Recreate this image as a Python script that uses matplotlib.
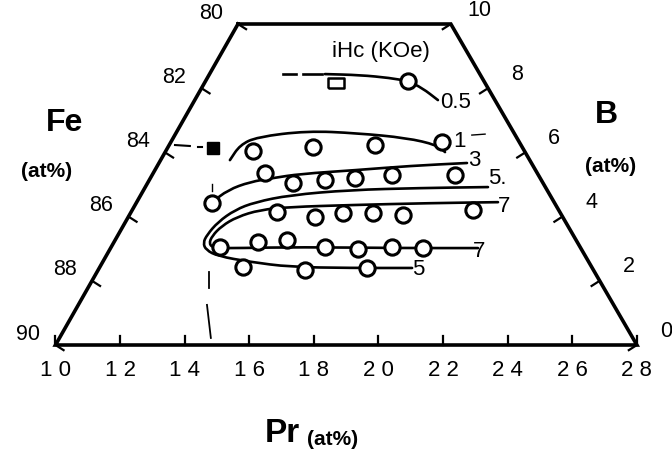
import numpy as np
import matplotlib
matplotlib.use("Agg")
import matplotlib.pyplot as plt
from matplotlib.path import Path
from matplotlib.patches import PathPatch

plt.rcParams['font.family'] = ['Liberation Sans', 'DejaVu Sans']

# diagram units: horizontal = position on the Pr axis, vertical = B (at%)
pr_ticks = [10, 12, 14, 16, 18, 20, 22, 24, 26, 28]
fe_ticks = [80, 82, 84, 86, 88, 90]
b_ticks = [0, 2, 4, 6, 8, 10]
top_left = 15.65   # Pr-axis position of the top corners (B = 10)
top_right = 22.24

# measured samples (open circles)
pts_05_x = [20.91]
pts_05_y = [8.22]
pts_1_x = [16.11, 17.97, 19.89, 21.97]
pts_1_y = [6.04, 6.17, 6.23, 6.32]
pts_3_x = [14.85, 16.49, 17.35, 18.34, 19.27, 20.42, 22.37]
pts_3_y = [4.42, 5.36, 5.05, 5.14, 5.20, 5.30, 5.30]
pts_7a_x = [16.86, 18.03, 18.90, 19.83, 20.76, 22.93]
pts_7a_y = [4.14, 3.99, 4.11, 4.11, 4.05, 4.21]
pts_7b_x = [15.09, 16.27, 17.17, 18.34, 19.37, 20.42, 21.38]
pts_7b_y = [3.05, 3.21, 3.27, 3.05, 2.99, 3.05, 3.02]
pts_5b_x = [15.80, 17.72, 19.64]
pts_5b_y = [2.43, 2.34, 2.40]
open_sq = (18.68, 8.16)
filled_sq = (14.88, 6.14)

# iHc contour lines
c05_x = [18.34, 19.43, 20.36, 20.91, 21.35, 21.84]
c05_y = [8.44, 8.41, 8.32, 8.22, 8.01, 7.63]
c1_x = [15.40, 15.71, 16.24, 17.79, 19.33, 20.88, 21.81, 22.06]
c1_y = [5.76, 6.23, 6.48, 6.67, 6.60, 6.45, 6.23, 6.01]
c3_x = [14.85, 15.34, 16.02, 16.73, 17.57, 19.33, 20.98, 22.74]
c3_y = [4.45, 4.83, 5.08, 5.20, 5.33, 5.45, 5.58, 5.67]
c5_x = [23.39, 21.28, 19.12, 17.26, 16.18, 15.56, 15.03, 14.69, 14.57,
        14.66, 15.03, 16.02, 17.26, 19.12, 21.04]
c5_y = [4.92, 4.89, 4.83, 4.67, 4.45, 4.21, 3.83, 3.43, 3.18,
        2.96, 2.77, 2.59, 2.43, 2.40, 2.40]
c7_x = [23.70, 21.59, 19.12, 17.26, 16.33, 15.62, 15.15, 14.85, 14.75,
        14.91, 15.71, 17.57, 20.67, 23.08]
c7_y = [4.45, 4.42, 4.36, 4.30, 4.21, 3.99, 3.71, 3.40, 3.15,
        3.02, 3.02, 3.05, 3.02, 3.02]

labels = ['0.5', '1', '3', '5.', '7', '7', '5']
lab_x = [21.90, 22.33, 22.77, 23.39, 23.70, 22.93, 21.04]
lab_y = [7.54, 6.35, 5.76, 5.20, 4.30, 2.90, 2.34]


def smooth(ax, xs, ys, lw=1.9):
    p = list(zip(xs, ys))
    verts = [p[0], ((p[0][0] + p[1][0]) / 2, (p[0][1] + p[1][1]) / 2)]
    codes = [Path.MOVETO, Path.LINETO]
    for i in range(1, len(p) - 1):
        m = ((p[i][0] + p[i + 1][0]) / 2, (p[i][1] + p[i + 1][1]) / 2)
        verts += [p[i], m]
        codes += [Path.CURVE3, Path.CURVE3]
    verts.append(p[-1])
    codes.append(Path.LINETO)
    ax.add_patch(PathPatch(Path(verts, codes), fill=False, lw=lw,
                           ec='black', capstyle='round', joinstyle='round'))


fig = plt.figure(figsize=(6.72, 4.51), dpi=100)
ax = fig.add_axes([0, 0, 1, 1])
ax.set_xlim(8.282, 29.087)
ax.set_ylim(-3.302, 10.748)
ax.axis('off')

# frame
ax.plot([top_left, 10, 28, top_right, top_left], [10, 0, 0, 10, 10],
        color='black', lw=2.6, solid_joinstyle='miter')

kw = dict(color='black', lw=1.6)
for p in pr_ticks:
    ax.plot([p, p], [0, 0.28], **kw)
    ax.annotate(' '.join(str(p)), (p, 0), xytext=(0, -25), textcoords='offset pixels',
                ha='center', va='center', fontsize=16)
for f in fe_ticks:
    v = 90 - f
    u = 10 + (top_left - 10) * v / 10
    ax.plot([u, u + 0.25], [v, v - 0.16], **kw)
    ax.annotate(str(f), (u, v), xytext=(-27, 11), textcoords='offset pixels',
                ha='center', va='center', fontsize=15.5)
for b in b_ticks:
    u = 28 - (28 - top_right) * b / 10
    ax.plot([u, u - 0.25], [b, b - 0.16], **kw)
    ax.annotate(str(b), (u, b), xytext=(29, 14), textcoords='offset pixels',
                ha='center', va='center', fontsize=15.5)

# contours
ax.plot([17.04, 17.45], [8.44, 8.44], color='black', lw=1.9)
ax.plot([17.66, 18.25], [8.44, 8.44], color='black', lw=1.9)
smooth(ax, c05_x, c05_y)
smooth(ax, c1_x, c1_y)
smooth(ax, c3_x, c3_y)
smooth(ax, c5_x, c5_y)
smooth(ax, c7_x, c7_y)
for t, x, y in zip(labels, lab_x, lab_y):
    ax.text(x, y, t, ha='left', va='center', fontsize=16)

# dashed guide marks
ax.plot([13.70, 14.16], [6.23, 6.20], color='black', lw=1.5)
ax.plot([14.41, 14.54], [6.17, 6.17], color='black', lw=1.5)
ax.plot([14.75, 14.75], [2.27, 1.78], color='black', lw=1.3)
ax.plot([14.69, 14.81], [1.25, 0.22], color='black', lw=1.3)
ax.plot([22.89, 23.30], [6.54, 6.57], color='black', lw=1.0)
ax.plot([14.84, 14.84], [5.02, 4.80], color='black', lw=1.0)

mk = dict(ls='none', marker='o', ms=11, mfc='white', mec='black', mew=2.2)
for xs, ys in [(pts_05_x, pts_05_y), (pts_1_x, pts_1_y), (pts_3_x, pts_3_y),
               (pts_7a_x, pts_7a_y), (pts_7b_x, pts_7b_y), (pts_5b_x, pts_5b_y)]:
    ax.plot(xs, ys, **mk)
rect = [(-1.5, -1), (1.5, -1), (1.5, 1), (-1.5, 1), (-1.5, -1)]
ax.plot(*open_sq, ls='none', marker=rect, ms=11, mfc='white', mec='black', mew=1.8)
ax.plot(*filled_sq, ls='none', marker='s', ms=9, mfc='black', mec='black')

ax.text(18.56, 9.13, 'iHc (KOe)', ha='left', va='center', fontsize=16)

ax.text(10.29, 6.92, 'Fe', ha='center', va='center', fontsize=23, fontweight='bold')
ax.text(9.71, 5.39, '(at%)', ha='center', va='center', fontsize=15, fontweight='bold')
ax.text(27.07, 7.17, 'B', ha='center', va='center', fontsize=23, fontweight='bold')
ax.text(27.17, 5.55, '(at%)', ha='center', va='center', fontsize=15, fontweight='bold')
ax.text(17.01, -2.77, 'Pr', ha='center', va='center', fontsize=24, fontweight='bold')
ax.text(17.80, -2.93, '(at%)', ha='left', va='center', fontsize=15, fontweight='bold')

fig.savefig('out.png', dpi=100)
